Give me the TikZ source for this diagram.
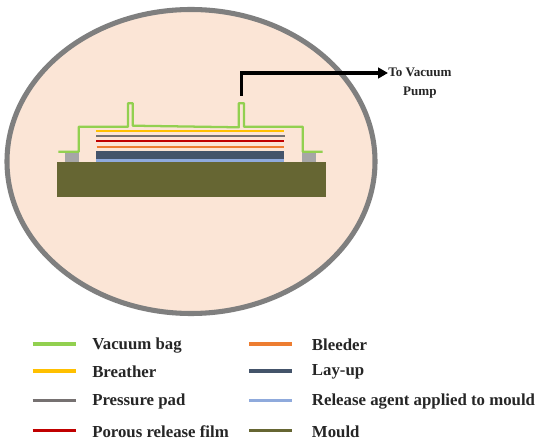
\documentclass[tikz,border=0pt]{standalone}
\usepackage{fontspec}
\setmainfont{Liberation Serif}
\usetikzlibrary{arrows.meta,shapes.geometric}
\definecolor{skin}{HTML}{FBE5D6}
\definecolor{rim}{HTML}{7F7F7F}
\definecolor{bagc}{HTML}{92D050}
\definecolor{breath}{HTML}{FFC000}
\definecolor{padc}{HTML}{A6A6A6}
\definecolor{padl}{HTML}{767171}
\definecolor{redc}{HTML}{C00000}
\definecolor{bleed}{HTML}{ED7D31}
\definecolor{layc}{HTML}{44546A}
\definecolor{relc}{HTML}{8FAADC}
\definecolor{mouldc}{HTML}{666633}
\tikzset{
 x=0.75pt,y=-0.75pt,
 keyline/.style={line width=2.6pt},
 layer/.style={line width=1.4pt},
 lab/.style={anchor=west,font=\fontsize{12.6pt}{15pt}\bfseries\selectfont,inner sep=0pt,text=black!85,yshift=-0.9pt},
}
\begin{document}
\begin{tikzpicture}
\useasboundingbox (0,0) rectangle (550,445);
\fill[white] (0,0) rectangle (550,445);
\node[ellipse,draw=rim,fill=skin,line width=3.8pt,minimum width=276pt,minimum height=228pt,inner sep=0pt] (rimshape) at (191,161.5) {};
\fill[mouldc] (56.7,162.3) rectangle (326,197);
\fill[padc] (64.7,152) rectangle (79,162.3);
\fill[padc] (302,152) rectangle (316,162.3);
\fill[relc] (96,159.3) rectangle (284.3,162.3);
\fill[layc] (96,150.7) rectangle (284.3,159.3);
\draw[layer,bleed] (96.7,147.3) -- (284.3,147.3);
\draw[layer,redc] (96,141) -- (284.3,141);
\draw[layer,padl] (96,136.3) -- (285,136.3);
\draw[layer,breath] (96,131) -- (284.3,131);
\draw[bagc,line width=1.7pt,line join=round] (58.3,151.7) -- (78.7,151.7) -- (78.7,126.7) -- (128,126.7) -- (128,103.3) -- (132.7,103.3) -- (132.7,125.7) -- (238.7,127.3) -- (238.7,103.3) -- (244,103.3) -- (244,126.7) -- (302.7,126.7) -- (302.7,151.7) -- (322.7,151.7);
\coordinate (pumpstart) at (241.7,95.7);
\coordinate (pumpbend) at (241.7,73);
\node[lab,align=center,font=\fontsize{9.8pt}{14.5pt}\bfseries\selectfont] (pump) at (388,82) {To Vacuum\\Pump};
\draw[black,line width=2.6pt,-{Triangle[length=7.5pt,width=8pt]}] (pumpstart) -- (pumpbend) -- (pumpbend -| pump.west);
\foreach \n/\y/\c/\t in {a/344/bagc/Vacuum bag,b/371/breath/Breather,c/400.7/padl/Pressure pad,d/430.7/redc/Porous release film}{
 \draw[keyline,\c] (32.7,\y) -- (75.7,\y);
 \node[lab] (\n) at (92,\y) {\t};
}
\foreach \n/\y/\c/\t in {e/344/bleed/Bleeder,f/371/layc/Lay-up,g/400.7/relc/Release agent applied to mould,h/430.7/mouldc/Mould}{
 \draw[keyline,\c] (249.3,\y) -- (292.3,\y);
 \node[lab] (\n) at (311.7,\y) {\t};
}
\end{tikzpicture}
\end{document}
